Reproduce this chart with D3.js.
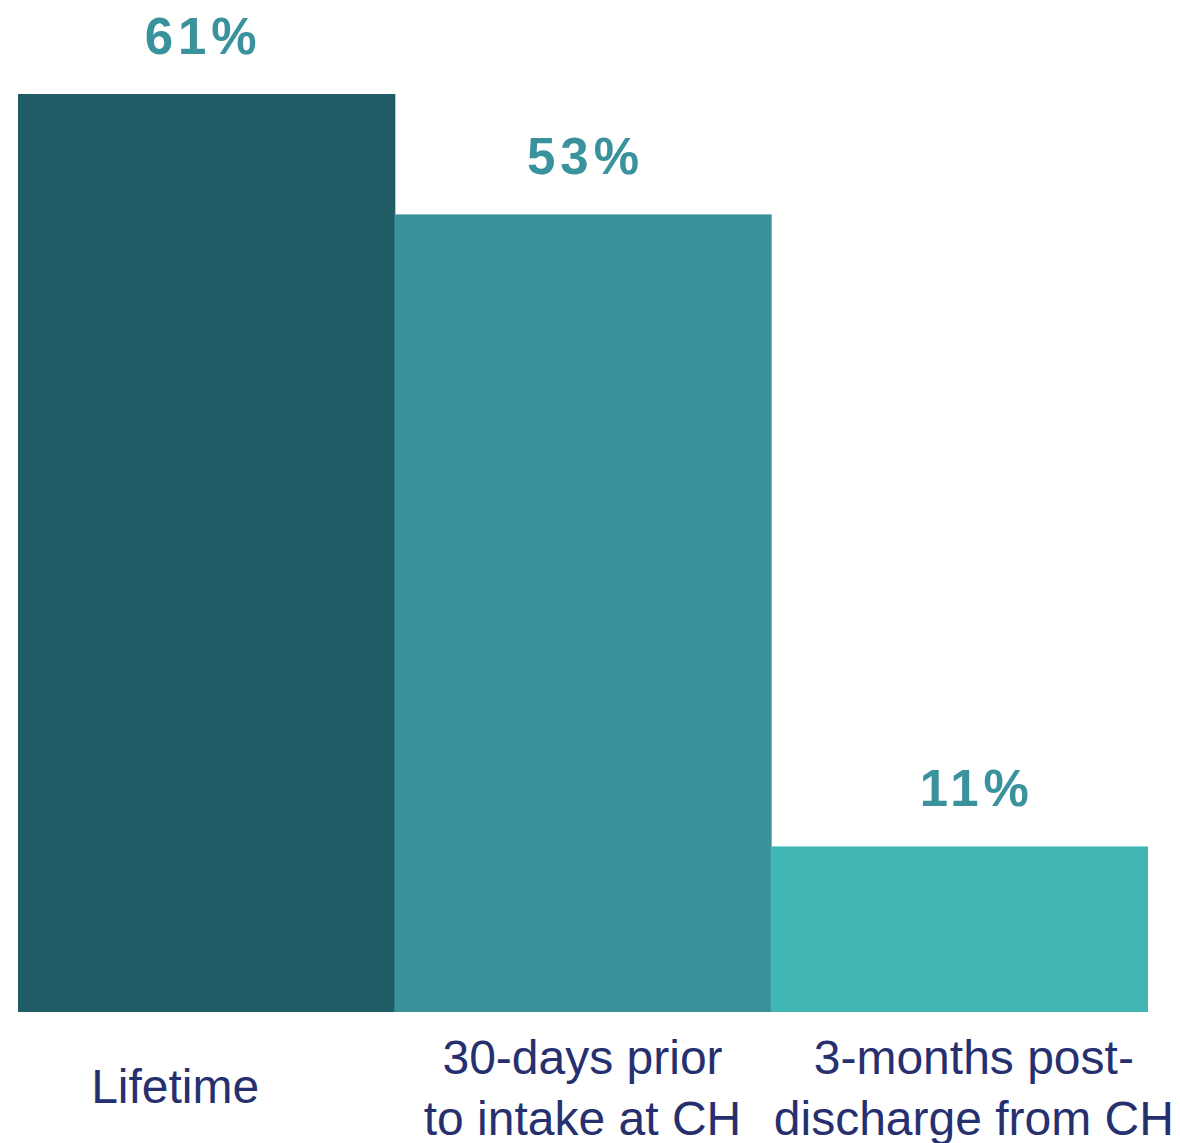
<!DOCTYPE html>
<html>
<head>
<meta charset="utf-8">
<script src="https://cdn.jsdelivr.net/npm/d3@7"></script>
<style>
  body { margin: 0; background: #ffffff; }
</style>
</head>
<body>
<div id="chart"></div>
<script>
// data
const categories = ["Lifetime", "30-days prior to intake at CH", "3-months post-discharge from CH"];
const labelLines = [["Lifetime"], ["30-days prior", "to intake at CH"], ["3-months post-", "discharge from CH"]];
const values = [61, 53, 11];
const colors = ["#1f5c66", "#3a919c", "#41b6b5"];

const width = 1180, height = 1143;
const margin = {top: 94, right: 33, bottom: 131, left: 18};

const svg = d3.select("#chart")
    .append("svg")
    .attr("width", width)
    .attr("height", height);

const x = d3.scaleBand()
    .domain(categories)
    .range([margin.left, width - margin.right])
    .padding(0);

const y = d3.scaleLinear()
    .domain([0, d3.max(values)])
    .range([height - margin.bottom, margin.top]);

const data = categories.map((c, i) => ({name: c, value: values[i], color: colors[i], lines: labelLines[i]}));

// bars
svg.selectAll("rect.bar")
    .data(data)
    .join("rect")
        .attr("class", "bar")
        .attr("x", d => x(d.name))
        .attr("y", d => y(d.value))
        .attr("width", x.bandwidth() + 1)
        .attr("height", d => y(0) - y(d.value))
        .attr("fill", d => d.color);

// label nudges to sit like the original
const valueDx = [-3, 3, 18];
const catDx = [-31, 0, 15];

svg.selectAll("text.value")
    .data(data)
    .join("text")
        .attr("class", "value")
        .attr("x", (d, i) => x(d.name) + x.bandwidth() / 2 + valueDx[i])
        .attr("y", d => y(d.value) - 40)
        .attr("text-anchor", "middle")
        .style("font-family", "'Liberation Sans', Arial, sans-serif")
        .style("font-weight", "bold")
        .style("font-size", "51px")
        .style("letter-spacing", "5px")
        .style("fill", "#3a929d")
        .text(d => d.value + "%");

const labels = svg.selectAll("text.cat")
    .data(data)
    .join("text")
        .attr("class", "cat")
        .attr("text-anchor", "middle")
        .style("font-family", "'Liberation Sans', Arial, sans-serif")
        .style("font-size", "48px")
        .style("fill", "#27306f");

labels.each(function(d, i) {
    const cx = x(d.name) + x.bandwidth() / 2 + catDx[i];
    const base = d.lines.length == 1 ? y(0) + 91 : y(0) + 62;
    d3.select(this).selectAll("tspan")
        .data(d.lines)
        .join("tspan")
            .attr("x", cx)
            .attr("y", (l, j) => base + j * 61)
            .text(l => l);
});
</script>
</body>
</html>
